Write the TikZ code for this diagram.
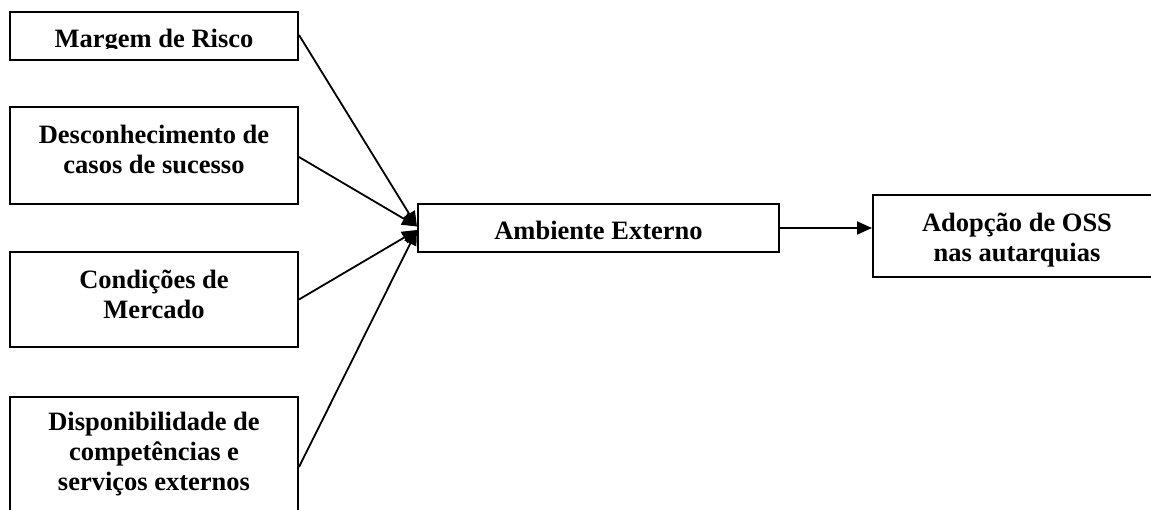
\documentclass[tikz,border=0pt]{standalone}
\usepackage{fontspec}
\setmainfont{Liberation Serif}
\usetikzlibrary{arrows.meta,calc}

\tikzset{
  box/.style={draw=black, line width=2pt, fill=white, rectangle, inner sep=0pt},
  txt/.style={font=\bfseries\fontsize{26.5pt}{30pt}\selectfont, align=center, inner sep=0pt},
  link/.style={line width=1.8pt, -{Triangle[length=15pt,width=13pt]}}
}

\begin{document}
\begin{tikzpicture}[x=1pt, y=-1pt]
  \useasboundingbox[fill=white] (0,0) rectangle (1151,510);

  % factor boxes on the left (text anchored at the baseline of its last line)
  \node[box, minimum width=288pt, minimum height=48pt] (risco) at (154,36) {};
  \begin{scope}
    \clip (10,12) rectangle (298,48.5);
    \node[txt, anchor=base] (trisco) at (154,47.5) {Margem de Risco};
  \end{scope}

  \node[box, minimum width=288pt, minimum height=97pt] (casos) at (154,155.5) {};
  \node[txt, anchor=base] (tcasos) at (154,174) {Desconhecimento de\\casos de sucesso};

  \node[box, minimum width=288pt, minimum height=95pt] (mercado) at (154,299.5) {};
  \node[txt, anchor=base] (tmercado) at (154,319) {Condições de\\Mercado};

  \node[box, minimum width=288pt, minimum height=140pt] (servicos) at (154,467) {};
  \node[txt, anchor=base] (tservicos) at (154,490) {Disponibilidade de\\competências e\\serviços externos};

  % central and outcome boxes
  \node[box, minimum width=361pt, minimum height=48pt] (amb) at (598.5,228) {};
  \node[txt, anchor=base] (tamb) at (598.5,240) {Ambiente Externo};

  \node[box, minimum width=288pt, minimum height=82pt] (adop) at (1017,236) {};
  \node[txt, anchor=base] (tadop) at (1017,262) {Adopção de OSS\\nas autarquias};

  % connectors
  \draw[link] ($(risco.east)+(0,-1)$) -- ($(amb.west)+(0,-1.5)$);
  \draw[link] ($(casos.east)+(0,1.5)$) -- ($(amb.west)+(0,-1.5)$);
  \draw[link] (mercado.east) -- ($(amb.west)+(0,2)$);
  \draw[link] (servicos.east) -- ($(amb.west)+(0,2)$);
  \draw[link] (amb.east) -- (amb.east -| adop.west);
\end{tikzpicture}
\end{document}
